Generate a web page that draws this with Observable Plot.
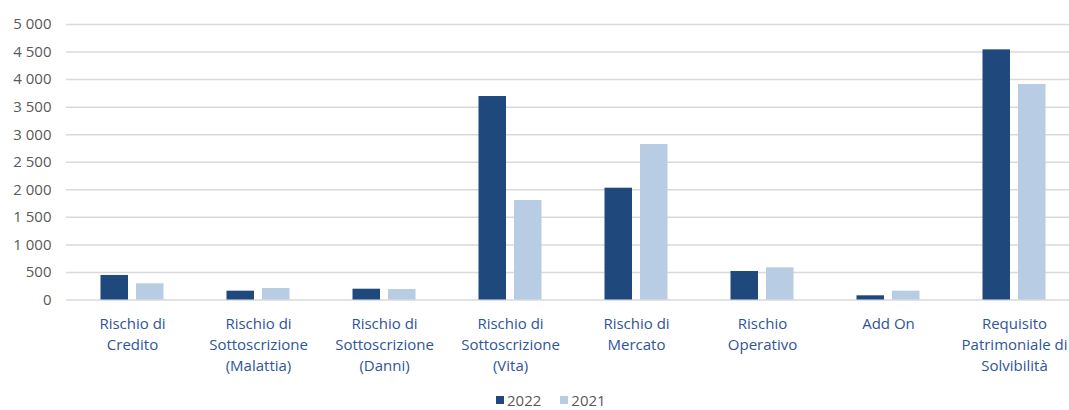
<!DOCTYPE html>
<html>
<head>
<meta charset="utf-8">
<script src="https://cdn.jsdelivr.net/npm/d3@7"></script>
<script src="https://cdn.jsdelivr.net/npm/@observablehq/plot@0.6"></script>
<style>
  html, body { margin: 0; padding: 0; background: #fff; overflow: hidden; }
  #wrap { position: relative; width: 1069px; height: 410px; font-family: "Open Sans", "Liberation Sans", sans-serif; }
  #legend { position: absolute; left: 496px; top: 393px; font-size: 15px; line-height: 14px; color: #595959; display: flex; align-items: center; white-space: nowrap; }
  #legend .sw { display: inline-block; width: 8px; height: 8px; margin-right: 3px; }
  #legend .item { display: flex; align-items: center; margin-right: 19px; }
</style>
</head>
<body>
<div id="wrap">
  <div id="chart"></div>
  <div id="legend"></div>
</div>
<script>
const categories = [
  "Rischio di\nCredito",
  "Rischio di\nSottoscrizione\n(Malattia)",
  "Rischio di\nSottoscrizione\n(Danni)",
  "Rischio di\nSottoscrizione\n(Vita)",
  "Rischio di\nMercato",
  "Rischio\nOperativo",
  "Add On",
  "Requisito\nPatrimoniale di\nSolvibilità"
];
const values2022 = [445, 160, 196, 3693, 2029, 517, 76, 4540];
const values2021 = [294, 209, 190, 1806, 2822, 584, 160, 3911];
const series = ["2022", "2021"];
const colors = ["#1f497d", "#b8cce4"];
const yTicks = [0, 500, 1000, 1500, 2000, 2500, 3000, 3500, 4000, 4500, 5000];

const data2022 = categories.map((c, i) => ({cat: c, value: values2022[i]}));
const data2021 = categories.map((c, i) => ({cat: c, value: values2021[i]}));

const loc = d3.formatLocale({decimal: ",", thousands: "\u00a0", grouping: [3], currency: ["", ""]});
const fmt = loc.format(",");

const chart = Plot.plot({
  width: 1069,
  height: 390,
  marginLeft: 66,
  marginRight: -11,
  marginTop: 24,
  marginBottom: 90.5,
  style: {fontFamily: "'Open Sans', 'Liberation Sans', sans-serif", fontSize: "15px", overflow: "hidden"},
  x: {domain: categories, padding: 0},
  y: {domain: [0, 5000]},
  marks: [
    Plot.ruleY(yTicks, {stroke: "#d9d9d9", strokeWidth: 1.5}),
    Plot.barY(data2022, {x: "cat", y: "value", fill: colors[0], insetLeft: 31.5, insetRight: 67}),
    Plot.barY(data2021, {x: "cat", y: "value", fill: colors[1], insetLeft: 67, insetRight: 31.5}),
    Plot.axisY({ticks: yTicks, tickFormat: fmt, tickSize: 0, tickPadding: 15, fill: "#595959", fontSize: 15, label: null}),
    Plot.axisX({tickSize: 0, tickPadding: 14, fill: "#2f5597", fontSize: 15, lineHeight: 1.4, label: null})
  ]
});
document.getElementById("chart").appendChild(chart);

const legend = document.getElementById("legend");
series.forEach((s, i) => {
  const item = document.createElement("span");
  item.className = "item";
  const sw = document.createElement("span");
  sw.className = "sw";
  sw.style.background = colors[i];
  item.appendChild(sw);
  item.appendChild(document.createTextNode(s));
  legend.appendChild(item);
});
</script>
</body>
</html>
